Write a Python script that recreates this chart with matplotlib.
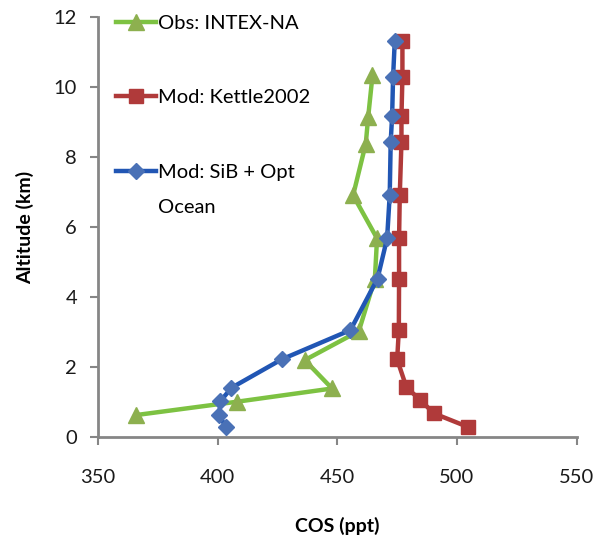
import matplotlib.pyplot as plt

# altitude (km) and COS (ppt)
obs_alt = [10.34, 9.15, 8.39, 6.91, 5.68, 4.53, 3.03, 2.2, 1.39, 1.01, 0.63]
obs_cos = [464.7, 462.9, 461.9, 456.6, 466.6, 465.7, 459.0, 436.4, 447.8, 407.9, 365.9]

kettle_alt = [11.32, 10.29, 9.17, 8.44, 6.93, 5.68, 4.53, 3.06, 2.22, 1.42, 1.06, 0.68, 0.29]
kettle_cos = [477.2, 477.2, 476.8, 476.8, 476.1, 475.8, 475.8, 475.7, 475.0, 478.9, 484.7, 490.3, 504.6]

sib_alt = [11.32, 10.29, 9.17, 8.44, 6.93, 5.68, 4.53, 3.06, 2.22, 1.41, 1.03, 0.63, 0.29]
sib_cos = [474.0, 473.3, 472.9, 472.3, 471.9, 470.8, 466.8, 455.5, 426.7, 405.8, 401.2, 400.7, 403.4]

labels = ["Obs: INTEX-NA", "Mod: Kettle2002", "Mod: SiB + Opt"]
label_extra = "Ocean"

plt.rcParams['font.family'] = ['Lato', 'DejaVu Sans']

fig = plt.figure(figsize=(5.97, 5.39), dpi=100)
ax = fig.add_axes([0.164, 0.189, 0.802, 0.779])

ax.plot(obs_cos, obs_alt, color='#7DC242', lw=3.2, marker='^', ms=11,
        mfc='#8DB04F', mec='#8DB04F', label=labels[0], zorder=3)
ax.plot(kettle_cos, kettle_alt, color='#B03A3A', lw=3.2, marker='s', ms=10,
        mfc='#B03A3A', mec='#B03A3A', label=labels[1], zorder=2)
ax.plot(sib_cos, sib_alt, color='#2156B4', lw=3.2, marker='D', ms=8,
        mfc='#4A71B6', mec='#4A71B6', label=labels[2], zorder=4)

ax.set_xlim(350, 550)
ax.set_ylim(0, 12)
ax.set_xticks(range(350, 551, 50))
ax.set_yticks(range(0, 13, 2))

for s in ['top', 'right']:
    ax.spines[s].set_visible(False)
for s in ['left', 'bottom']:
    ax.spines[s].set_color('#868686')
    ax.spines[s].set_linewidth(2)
ax.tick_params(colors='#868686', width=1.5, length=6, labelsize=14.5,
               labelcolor='#1a1a1a')
ax.tick_params(axis='x', pad=17)
ax.tick_params(axis='y', pad=9)

ax.set_xlabel('COS (ppt)', fontsize=14, fontweight='bold', labelpad=22)
ax.set_ylabel('Altitude (km)', fontsize=14, fontweight='bold', labelpad=14)

leg = ax.legend(loc='upper left', bbox_to_anchor=(0.02, 1.025), frameon=False,
                fontsize=14.5, handlelength=2.0, handletextpad=0.12,
                labelspacing=2.85, borderaxespad=0)

fig.canvas.draw()
t = leg.get_texts()[2]
bb = t.get_window_extent().transformed(fig.transFigure.inverted())
fig.text(bb.x0, bb.y0 - 0.034, label_extra, fontsize=14.5, va='top', ha='left')

fig.savefig('out.png', dpi=100)
